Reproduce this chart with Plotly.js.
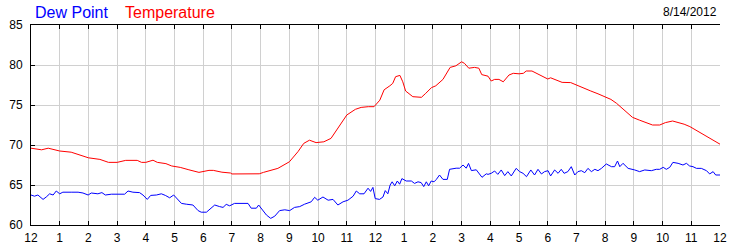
<!DOCTYPE html>
<html>
<head>
<meta charset="utf-8">
<script src="https://cdn.plot.ly/plotly-3.0.1.min.js"></script>
<style>html,body{margin:0;padding:0;background:#fff;}#chart{width:750px;height:250px;}</style>
</head>
<body>
<div id="chart"></div>
<script>
// Hours since midnight (0..24) and readings
const tempHours = [0,0.37,0.6,1.0,1.4,1.75,2.0,2.4,2.7,3.0,3.3,3.7,3.85,4.0,4.25,4.4,4.7,4.9,5.2,5.5,5.85,6.2,6.35,6.65,6.95,7.0,7.5,7.95,8.1,8.37,8.6,9.0,9.3,9.5,9.7,9.93,10.2,10.45,10.75,11.0,11.3,11.5,11.75,11.95,12.15,12.3,12.5,12.6,12.7,12.85,12.95,13.05,13.3,13.6,13.75,13.95,14.1,14.35,14.6,14.8,15.0,15.1,15.25,15.45,15.6,15.7,15.92,16.03,16.15,16.3,16.45,16.65,16.8,17.0,17.15,17.25,17.45,17.7,18.0,18.1,18.35,18.5,18.8,19.05,19.3,19.5,19.75,20.0,20.2,20.4,20.65,20.95,21.2,21.4,21.65,21.9,22.1,22.35,22.55,22.75,22.95,23.2,23.5,23.75,24.0];
const tempValues = [69.6,69.4,69.6,69.25,69.1,68.67,68.4,68.2,67.83,67.83,68.08,68.08,67.83,67.83,68.1,67.83,67.67,67.38,67.2,66.9,66.58,66.83,66.83,66.6,66.5,66.38,66.38,66.4,66.58,66.8,67.08,67.9,69.17,70.2,70.6,70.3,70.4,70.83,72.5,73.75,74.46,74.7,74.79,74.79,75.6,76.9,77.4,77.7,78.54,78.7,77.9,76.75,76.04,75.96,76.46,77.17,77.4,78.2,79.7,79.9,80.4,80.2,79.6,79.7,79.6,78.8,78.6,78.0,78.2,78.2,77.9,78.75,78.96,78.9,78.96,79.25,79.25,78.75,78.25,78.4,78.04,77.83,77.8,77.4,77.0,76.75,76.4,76.04,75.7,75.2,74.4,73.46,73.1,72.8,72.5,72.5,72.8,73.0,72.8,72.6,72.3,71.8,71.1,70.7,70.1];

const dewHours = [0,0.12,0.24,0.42,0.53,0.65,0.77,0.88,1.0,1.11,1.4,1.64,1.81,1.99,2.1,2.33,2.47,2.59,2.8,3.26,3.38,3.55,3.78,3.9,4.05,4.17,4.37,4.54,4.68,4.83,4.97,5.12,5.24,5.41,5.64,5.82,5.93,6.11,6.22,6.4,6.57,6.69,6.8,6.92,7.09,7.56,7.67,7.85,7.93,8.05,8.2,8.35,8.49,8.66,8.84,9.01,9.18,9.36,9.53,9.76,9.88,9.99,10.17,10.35,10.52,10.69,10.87,11.04,11.22,11.33,11.45,11.6,11.74,11.83,11.91,11.99,12.14,12.26,12.34,12.43,12.51,12.58,12.67,12.76,12.84,12.92,13.07,13.25,13.36,13.48,13.59,13.68,13.77,13.85,13.94,14.04,14.12,14.23,14.35,14.5,14.58,14.81,14.93,15.05,15.16,15.24,15.34,15.51,15.71,15.86,15.92,16.03,16.15,16.26,16.38,16.5,16.61,16.73,16.9,17.02,17.14,17.26,17.41,17.54,17.66,17.78,17.89,18.01,18.1,18.24,18.36,18.47,18.57,18.7,18.82,18.94,19.05,19.17,19.29,19.4,19.52,19.64,19.75,19.87,20.04,20.22,20.33,20.43,20.51,20.62,20.8,21.03,21.2,21.38,21.61,21.78,21.9,22.02,22.13,22.25,22.36,22.54,22.71,22.83,22.94,23.06,23.18,23.35,23.53,23.64,23.76,23.85,24.0];
const dewValues = [63.75,63.6,63.75,63.2,63.5,63.9,63.75,64.25,63.9,64.1,64.1,64.1,64.0,63.75,64.0,63.9,64.05,63.75,63.85,63.85,64.25,64.1,64.05,63.75,63.2,63.7,63.75,63.9,63.7,63.4,63.75,63.1,62.7,62.6,62.5,61.8,61.6,61.6,61.9,62.5,62.3,62.2,62.58,62.4,62.7,62.7,62.1,62.1,62.5,62.0,61.25,60.83,61.1,61.8,61.9,61.8,62.2,62.3,62.6,62.9,63.46,63.1,63.5,63.1,63.2,62.5,62.9,63.1,63.6,64.25,63.9,63.9,64.6,64.2,64.7,63.3,63.2,63.5,64.3,63.9,65.0,65.4,64.9,65.5,65.1,65.8,65.5,65.5,65.2,65.4,65.3,64.8,65.4,64.9,65.5,65.4,65.7,66.25,65.7,65.7,66.96,67.1,67.1,67.5,67.1,67.7,66.8,66.9,65.96,66.4,66.33,66.46,66.75,66.33,66.88,66.17,66.67,66.13,67.08,66.67,66.46,66.04,66.88,66.25,66.96,66.38,66.67,66.79,66.13,66.88,66.46,66.96,66.46,66.67,67.29,66.25,66.67,66.79,66.54,67.08,66.67,66.96,66.79,67.08,67.63,67.29,67.29,68.0,67.29,67.71,67.08,66.88,66.67,66.88,66.79,66.96,66.96,67.21,66.96,67.21,67.83,67.71,67.5,67.71,67.38,67.29,67.08,67.08,66.79,66.38,66.67,66.25,66.25];

const hourTicks = [0,1,2,3,4,5,6,7,8,9,10,11,12,13,14,15,16,17,18,19,20,21,22,23,24];
const hourLabels = ["12","1","2","3","4","5","6","7","8","9","10","11","12","1","2","3","4","5","6","7","8","9","10","11","12"];
const yTicks = [60,65,70,75,80,85];
const seriesNames = ["Dew Point","Temperature"];
const dateLabel = "8/14/2012";

const FONT = "Arial, 'Liberation Sans', sans-serif";
const traces = [
  {x: dewHours, y: dewValues, type: 'scatter', mode: 'lines', name: seriesNames[0],
   line: {color: '#0000ff', width: 1}, hoverinfo: 'skip'},
  {x: tempHours, y: tempValues, type: 'scatter', mode: 'lines', name: seriesNames[1],
   line: {color: '#ff0000', width: 1}, hoverinfo: 'skip'}
];

const yCommon = {
  range: [60, 85], tickvals: yTicks, ticks: 'inside', ticklen: 4, tickcolor: '#000',
  showline: true, linecolor: '#000', linewidth: 1, zeroline: false,
  tickfont: {family: FONT, size: 12, color: '#000'}, fixedrange: true
};

const layout = {
  width: 750, height: 250,
  margin: {l: 31, r: 30, t: 25, b: 25, pad: 0},
  paper_bgcolor: '#fff', plot_bgcolor: '#fff',
  showlegend: false,
  font: {family: FONT, size: 12, color: '#000'},
  xaxis: {
    range: [0, 24], tickvals: hourTicks, ticktext: hourLabels, tickmode: 'array',
    ticks: 'inside', ticklen: 4, tickcolor: '#000', mirror: 'ticks',
    showline: true, linecolor: '#000', linewidth: 1,
    showgrid: true, gridcolor: '#d0d0d0', gridwidth: 1, zeroline: false,
    ticklabelstandoff: 2,
    tickfont: {family: FONT, size: 12, color: '#000'}, fixedrange: true
  },
  yaxis: Object.assign({}, yCommon, {showgrid: true, gridcolor: '#d0d0d0', gridwidth: 1, side: 'left', ticklabelstandoff: 5}),
  yaxis2: Object.assign({}, yCommon, {overlaying: 'y', side: 'right', showgrid: false, ticklabelstandoff: 5}),
  annotations: [
    {xref: 'paper', yref: 'paper', x: (33-31)/689, y: (225-12)/200, xanchor: 'left', yanchor: 'middle',
     text: seriesNames[0], showarrow: false, font: {family: FONT, size: 16, color: '#0000ff'}},
    {xref: 'paper', yref: 'paper', x: (123-31)/689, y: (225-12)/200, xanchor: 'left', yanchor: 'middle',
     text: seriesNames[1], showarrow: false, font: {family: FONT, size: 16, color: '#ff0000'}},
    {xref: 'paper', yref: 'paper', x: (719-31)/689, y: (225-12)/200, xanchor: 'right', yanchor: 'middle',
     text: dateLabel, showarrow: false, font: {family: FONT, size: 12, color: '#000'}}
  ]
};

Plotly.newPlot('chart', traces, layout, {displayModeBar: false, staticPlot: true});
</script>
</body>
</html>
